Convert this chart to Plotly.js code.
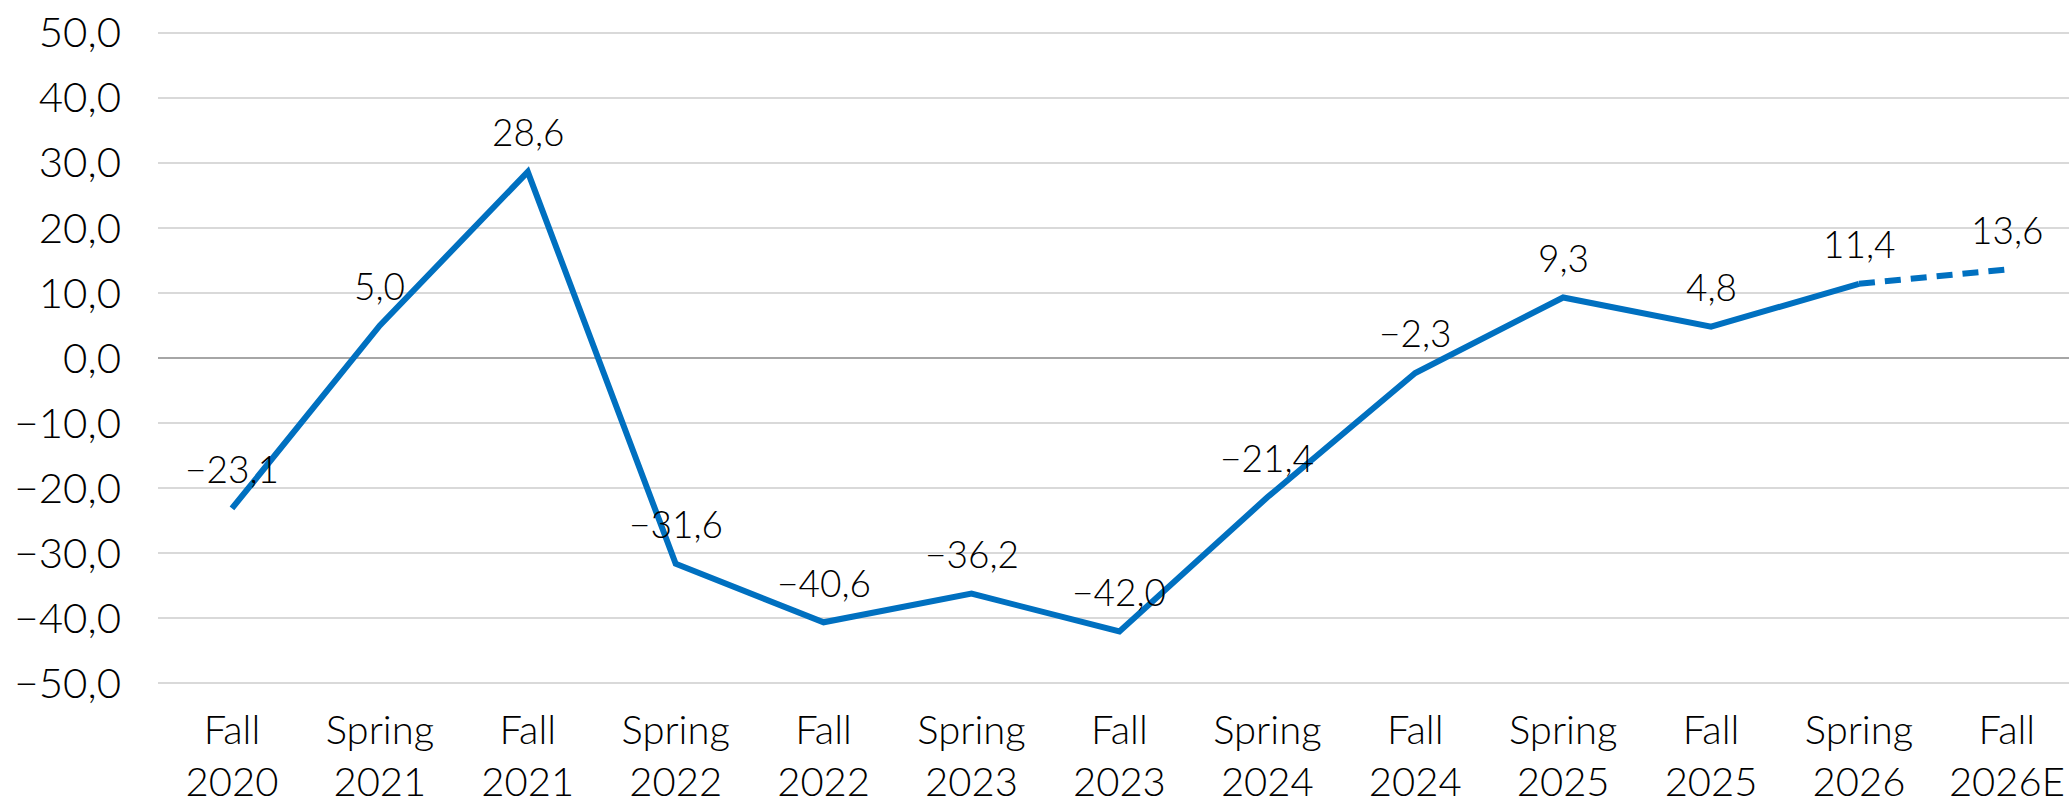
<!DOCTYPE html>
<html>
<head>
<meta charset="utf-8">
<script src="https://cdn.plot.ly/plotly-3.0.1.min.js"></script>
<style>
html,body{margin:0;padding:0;background:#fff;}
#chart{width:2069px;height:805px;}
</style>
</head>
<body>
<div id="chart"></div>
<script>
// ---- data ----
var categories = ["Fall<br>2020","Spring<br>2021","Fall<br>2021","Spring<br>2022","Fall<br>2022","Spring<br>2023","Fall<br>2023","Spring<br>2024","Fall<br>2024","Spring<br>2025","Fall<br>2025","Spring<br>2026","Fall<br>2026E"];
var values = [-23.1, 5.0, 28.6, -31.6, -40.6, -36.2, -42.0, -21.4, -2.3, 9.3, 4.8, 11.4, 13.6];
var forecastStart = 11; // index where dashed (estimate) segment begins
var yTickVals = [-50,-40,-30,-20,-10,0,10,20,30,40,50];

function fmt(v){
  var s = Math.abs(v).toFixed(1).replace('.', ',');
  return (v < 0 ? '\u2212' : '') + s;
}

var xIdx = categories.map(function(_, i){ return i; });

var solidY = values.map(function(v, i){ return i <= forecastStart ? v : null; });
var dashY  = values.map(function(v, i){ return i >= forecastStart ? v : null; });

var FONT = "Lato, 'Open Sans', sans-serif";
var BLUE = "#0070C0";

var traces = [
  {x: xIdx, y: solidY, type: 'scatter', mode: 'lines',
   line: {color: BLUE, width: 6}, hoverinfo: 'skip', connectgaps: false},
  {x: xIdx, y: dashY, type: 'scatter', mode: 'lines',
   line: {color: BLUE, width: 6, dash: '16px,10px'}, hoverinfo: 'skip', connectgaps: false}
];

var annotations = values.map(function(v, i){
  return {x: i, y: v, xref: 'x', yref: 'y', text: fmt(v), showarrow: false,
          yshift: 40, font: {family: FONT, size: 37, color: '#000', weight: 300}};
});

var layout = {
  width: 2069, height: 805,
  margin: {l: 158, r: 0, t: 26, b: 115, pad: 0},
  paper_bgcolor: '#fff', plot_bgcolor: '#fff',
  showlegend: false,
  xaxis: {
    range: [-0.5, 12.42],
    tickmode: 'array', tickvals: xIdx, ticktext: categories,
    showgrid: false, zeroline: false, showline: false, ticks: '',
    ticklabelstandoff: 13,
    tickfont: {family: FONT, size: 40, color: '#000', weight: 300}
  },
  yaxis: {
    range: [-51, 51],
    tickmode: 'array', tickvals: yTickVals, ticktext: yTickVals.map(fmt),
    showgrid: true, gridcolor: '#d9d9d9', gridwidth: 2,
    zeroline: true, zerolinecolor: '#a6a6a6', zerolinewidth: 2,
    showline: false, ticks: '',
    ticklabelstandoff: 36,
    tickfont: {family: FONT, size: 42, color: '#000', weight: 300}
  },
  annotations: annotations
};

Plotly.newPlot('chart', traces, layout, {displayModeBar: false, staticPlot: true});
</script>
</body>
</html>
